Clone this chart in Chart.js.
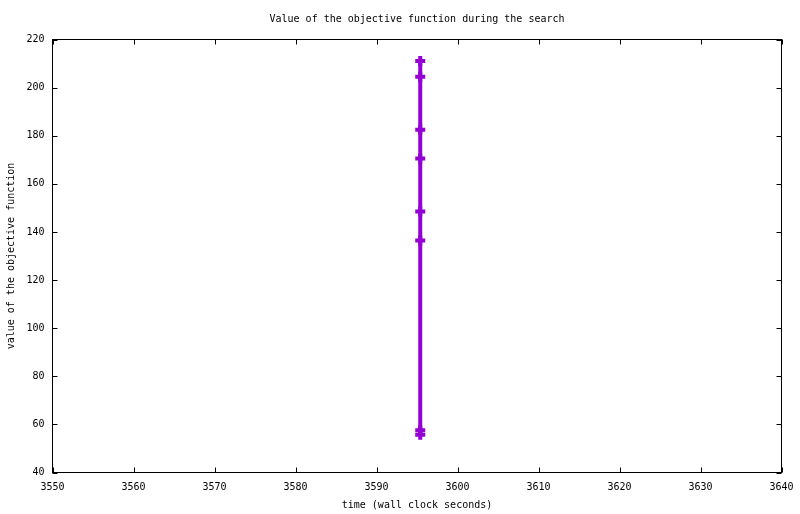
<!DOCTYPE html>
<html>
<head>
<meta charset="utf-8">
<script src="https://cdn.jsdelivr.net/npm/chart.js@4"></script>
<style>
  body { margin: 0; background: #fff; }
  canvas { display: block; }
</style>
</head>
<body>
<canvas id="mycanvas" width="800" height="514"></canvas>
<script>
// data
var times = [3595.4, 3595.4, 3595.4, 3595.4, 3595.4, 3595.4, 3595.4, 3595.4];
var values = [211.1, 204.5, 182.5, 170.5, 148.5, 136.4, 57.6, 55.7];
var xTicks = [3550, 3560, 3570, 3580, 3590, 3600, 3610, 3620, 3630, 3640];
var yTicks = [40, 60, 80, 100, 120, 140, 160, 180, 200, 220];

var titleText = 'Value of the objective function during the search';
var font = { family: 'DejaVu Sans Mono', size: 10, lineHeight: 1.2 };

var points = [];
for (var i in times) {
    points.push({ x: times[i], y: values[i] });
}

// gnuplot style frame: box + inward ticks on all four sides, title over the plot
var framePlugin = {
    id: 'frame',
    beforeDatasetsDraw: function(chart) {
        var ctx = chart.ctx;
        var a = chart.chartArea;
        var xs = chart.scales.x, ys = chart.scales.y;
        var tl = 5;
        ctx.save();
        ctx.strokeStyle = '#000';
        ctx.lineWidth = 1;
        ctx.strokeRect(a.left, a.top, a.right - a.left, a.bottom - a.top);
        ctx.beginPath();
        xTicks.forEach(function(v) {
            var px = Math.round(xs.getPixelForValue(v)) + 0.5;
            ctx.moveTo(px, a.bottom); ctx.lineTo(px, a.bottom - tl);
            ctx.moveTo(px, a.top); ctx.lineTo(px, a.top + tl);
        });
        yTicks.forEach(function(v) {
            var py = Math.round(ys.getPixelForValue(v)) + 0.5;
            ctx.moveTo(a.left, py); ctx.lineTo(a.left + tl, py);
            ctx.moveTo(a.right, py); ctx.lineTo(a.right - tl, py);
        });
        ctx.stroke();
        ctx.restore();
    },
    afterDraw: function(chart) {
        var ctx = chart.ctx;
        var a = chart.chartArea;
        ctx.save();
        ctx.fillStyle = '#000';
        ctx.font = '10px "DejaVu Sans Mono"';
        ctx.textAlign = 'center';
        ctx.textBaseline = 'middle';
        ctx.fillText(titleText, (a.left + a.right) / 2, 19);
        ctx.restore();
    }
};

var ctx = document.getElementById('mycanvas');

var lineChart = new Chart(ctx, {
    type: 'scatter',
    data: {
        datasets: [
            {
                label: 'objective',
                data: points,
                showLine: true,
                borderColor: '#9400d3',
                backgroundColor: '#9400d3',
                borderWidth: 4,
                pointStyle: 'cross',
                pointRadius: 5,
                pointBorderWidth: 4,
                pointHoverRadius: 5
            }
        ]
    },
    options: {
        responsive: false,
        animation: false,
        devicePixelRatio: 1,
        layout: { padding: { top: 39.5, right: 18.5, left: 0, bottom: 0 } },
        plugins: {
            legend: { display: false },
            title: { display: false },
            tooltip: { enabled: false }
        },
        scales: {
            x: {
                type: 'linear',
                min: 3550,
                max: 3640,
                afterBuildTicks: function(scale) {
                    scale.ticks = xTicks.map(function(v) { return { value: v }; });
                },
                afterFit: function(scale) {
                    scale.height = 41.5;
                    scale.paddingLeft = 0;
                    scale.paddingRight = 0;
                },
                grid: { display: false, drawTicks: false },
                border: { display: false },
                ticks: {
                    color: '#000', font: font, padding: 9, maxRotation: 0,
                    callback: function(v) { return String(v); }
                },
                title: {
                    display: true,
                    text: 'time (wall clock seconds)',
                    color: '#000',
                    font: font,
                    padding: { top: 0, bottom: 3 }
                }
            },
            y: {
                type: 'linear',
                min: 40,
                max: 220,
                afterBuildTicks: function(scale) {
                    scale.ticks = yTicks.map(function(v) { return { value: v }; });
                },
                afterFit: function(scale) {
                    scale.width = 52.5;
                    scale.paddingTop = 0;
                    scale.paddingBottom = 0;
                },
                grid: { display: false, drawTicks: false },
                border: { display: false },
                ticks: {
                    color: '#000', font: font, padding: 8,
                    callback: function(v) { return String(v); }
                },
                title: {
                    display: true,
                    text: 'value of the objective function',
                    color: '#000',
                    font: font,
                    padding: { top: 5, bottom: 0 }
                }
            }
        }
    },
    plugins: [framePlugin]
});
</script>
</body>
</html>
